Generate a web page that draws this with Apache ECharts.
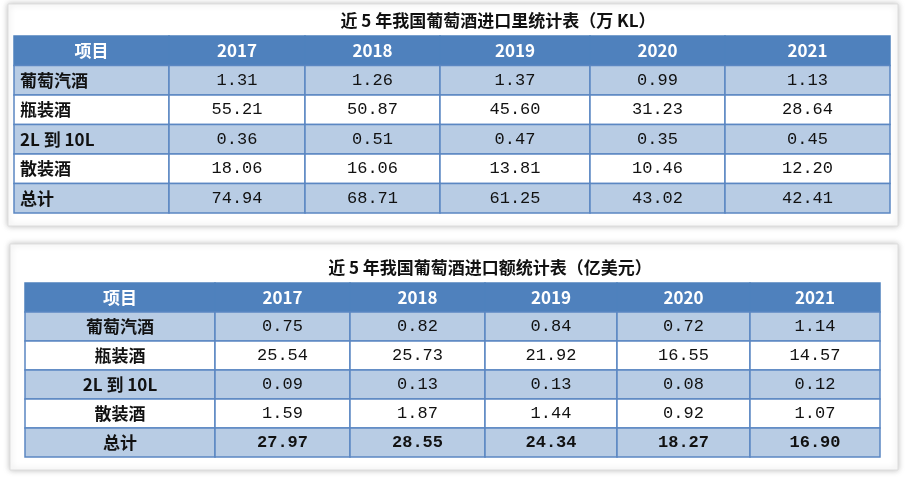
<!DOCTYPE html>
<html><head><meta charset="utf-8">
<script src="https://cdn.jsdelivr.net/npm/echarts@6/dist/echarts.min.js"></script>
<style>html,body{margin:0;background:#fff}#c{width:907px;height:477px}</style>
</head><body><div id="c"></div>
<script>
// 数据
var years = ['2017', '2018', '2019', '2020', '2021'];
var items = ['葡萄汽酒', '瓶装酒', '2L 到 10L', '散装酒', '总计'];
var volume = [
  ['1.31', '1.26', '1.37', '0.99', '1.13'],
  ['55.21', '50.87', '45.60', '31.23', '28.64'],
  ['0.36', '0.51', '0.47', '0.35', '0.45'],
  ['18.06', '16.06', '13.81', '10.46', '12.20'],
  ['74.94', '68.71', '61.25', '43.02', '42.41']
];
var amount = [
  ['0.75', '0.82', '0.84', '0.72', '1.14'],
  ['25.54', '25.73', '21.92', '16.55', '14.57'],
  ['0.09', '0.13', '0.13', '0.08', '0.12'],
  ['1.59', '1.87', '1.44', '0.92', '1.07'],
  ['27.97', '28.55', '24.34', '18.27', '16.90']
];
var title1 = '近 5 年我国葡萄酒进口里统计表（万 KL）';
var title2 = '近 5 年我国葡萄酒进口额统计表（亿美元）';

// 表格布局（像素列边界）
var edges1 = [14, 169, 305, 440, 590, 725, 890];
var edges2 = [25, 215, 350, 485, 617, 750, 880];

function cells(vals) {
  var out = [];
  out.push([0, 0, '项目']);
  years.forEach(function (y, i) { out.push([i + 1, 0, y]); });
  items.forEach(function (it, r) {
    out.push([0, r + 1, it]);
    vals[r].forEach(function (v, i) { out.push([i + 1, r + 1, v]); });
  });
  return out;
}

function makeSeries(idx, edges, vals, firstLeft, boldTotal) {
  return {
    type: 'custom', xAxisIndex: idx, yAxisIndex: idx,
    data: cells(vals),
    renderItem: function (params, api) {
      var c = api.value(0), r = api.value(1), txt = vals ? (r === 0 ? (c === 0 ? '项目' : years[c - 1]) : (c === 0 ? items[r - 1] : vals[r - 1][c - 1])) : '';
      var p0 = api.coord([edges[c] - edges[0], r]);
      var p1 = api.coord([edges[c + 1] - edges[0], r + 1]);
      var header = r === 0;
      var fill = header ? '#4f81bd' : (r % 2 === 1 ? '#b8cce4' : '#ffffff');
      var isNum = c > 0 && !header;
      var bold = !isNum || (boldTotal && r === 5);
      var left = firstLeft && c === 0 && !header;
      return {
        type: 'group',
        children: [
          { type: 'rect', shape: { x: p0[0], y: p0[1], width: p1[0] - p0[0], height: p1[1] - p0[1] },
            style: { fill: fill, stroke: header ? '#4f81bd' : '#5b87c2', lineWidth: 1.5 } },
          { type: 'text', x: left ? p0[0] + 6 : (p0[0] + p1[0]) / 2, y: (p0[1] + p1[1]) / 2,
            style: { text: txt, textAlign: left ? 'left' : 'center', textVerticalAlign: 'middle',
              fill: header ? '#ffffff' : '#111',
              font: (bold ? 'bold ' : '') + '17px ' + (isNum ? '"Liberation Mono","DejaVu Sans Mono",monospace' : '"Noto Sans CJK SC","DejaVu Sans",sans-serif') } }
        ]
      };
    }
  };
}

var chart = echarts.init(document.getElementById('c'));
chart.setOption({
  animation: false,
  graphic: [
    { type: 'rect', shape: { x: 8, y: 4, width: 890, height: 222 }, style: { fill: '#fff', stroke: '#ddd', shadowBlur: 6, shadowColor: 'rgba(0,0,0,0.25)' }, z: -1 },
    { type: 'rect', shape: { x: 10, y: 244, width: 888, height: 226 }, style: { fill: '#fff', stroke: '#ddd', shadowBlur: 6, shadowColor: 'rgba(0,0,0,0.25)' }, z: -1 },
    { type: 'text', x: 498, y: 21, style: { text: title1, textAlign: 'center', textVerticalAlign: 'middle', font: 'bold 17px "Noto Sans CJK SC"', fill: '#111' } },
    { type: 'text', x: 490, y: 268, style: { text: title2, textAlign: 'center', textVerticalAlign: 'middle', font: 'bold 17px "Noto Sans CJK SC"', fill: '#111' } }
  ],
  grid: [
    { left: edges1[0], width: edges1[6] - edges1[0], top: 36, height: 177 },
    { left: edges2[0], width: edges2[6] - edges2[0], top: 283, height: 174 }
  ],
  xAxis: [
    { gridIndex: 0, type: 'value', min: 0, max: edges1[6] - edges1[0], show: false },
    { gridIndex: 1, type: 'value', min: 0, max: edges2[6] - edges2[0], show: false }
  ],
  yAxis: [
    { gridIndex: 0, type: 'value', min: 0, max: 6, inverse: true, show: false },
    { gridIndex: 1, type: 'value', min: 0, max: 6, inverse: true, show: false }
  ],
  series: [
    makeSeries(0, edges1, volume, true, false),
    makeSeries(1, edges2, amount, false, true)
  ]
});
</script></body></html>
